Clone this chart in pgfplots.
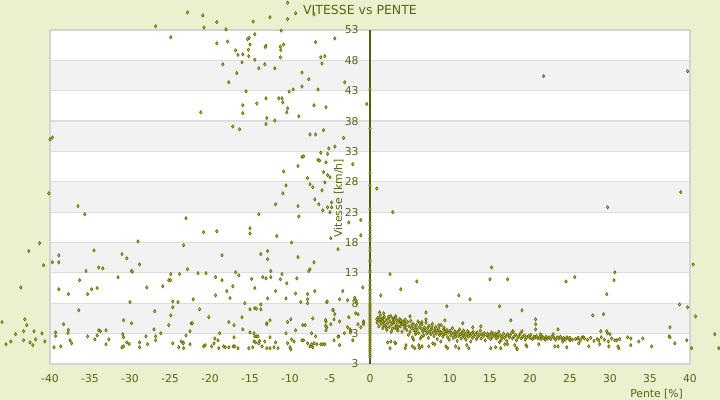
\documentclass[border=0pt]{standalone}
\usepackage{fontspec}
\setmainfont{DejaVu Sans}
\usepackage{pgfplots}
\pgfplotsset{compat=1.18}
\definecolor{bgc}{RGB}{235,240,206}
\definecolor{txtc}{RGB}{92,98,22}
\definecolor{axc}{RGB}{88,92,0}
\definecolor{mkd}{RGB}{96,102,0}
\definecolor{mkf}{RGB}{196,204,80}
\definecolor{band}{RGB}{242,242,242}
\definecolor{gridc}{RGB}{221,221,221}
\definecolor{framec}{RGB}{212,212,212}
\pgfplotsset{pts/.style={only marks, mark=diamond*, mark size=0.82pt, mark options={draw=mkd, fill=mkf, line width=0.3pt}}}
\tikzset{ylab/.style={font=\fontsize{5.4}{6}\selectfont, text=txtc, anchor=east, xshift=-2.2pt, inner sep=0.333em},
  gl/.style={draw=gridc, line width=0.6pt}}
\begin{document}
\begin{tikzpicture}
\begin{axis}[
  set layers,
  at={(0,0)}, anchor=south west,
  width=320pt, height=167pt, scale only axis,
  xmin=-40, xmax=40, ymin=-2, ymax=53,
  axis x line=bottom, axis y line=center,
  x axis line style={draw=framec,-},
  y axis line style={draw=axc, line width=0.55pt, -},
  xtick={-40,-35,...,40},
  xticklabels={-40,-35,-30,-25,-20,-15,-10,-5,0,5,10,15,20,25,30,35,40},
  ytick=\empty,
  major tick length=0pt,
  tick style={draw=none},
  hide obscured x ticks=false, hide obscured y ticks=false,
  xticklabel style={font=\fontsize{5.4}{6}\selectfont, text=txtc, anchor=center, yshift=-7.5pt},
  /pgf/number format/assume math mode=true,
  clip=false,
]
\begin{pgfonlayer}{axis background}
\fill[bgc] (rel axis cs:0,0) ++(-25pt,-18pt) rectangle ++(360pt,200pt);
\fill[white] (axis cs:-40,-2) rectangle (axis cs:40,53);
\fill[band] (axis cs:-40,3) rectangle (axis cs:40,8);
\fill[band] (axis cs:-40,13) rectangle (axis cs:40,18);
\fill[band] (axis cs:-40,23) rectangle (axis cs:40,28);
\fill[band] (axis cs:-40,33) rectangle (axis cs:40,38);
\fill[band] (axis cs:-40,43) rectangle (axis cs:40,48);
\draw[gl] (axis cs:-40,3) -- (axis cs:40,3);
\draw[gl] (axis cs:-40,8) -- (axis cs:40,8);
\draw[gl] (axis cs:-40,13) -- (axis cs:40,13);
\draw[gl] (axis cs:-40,18) -- (axis cs:40,18);
\draw[gl] (axis cs:-40,23) -- (axis cs:40,23);
\draw[gl] (axis cs:-40,28) -- (axis cs:40,28);
\draw[gl] (axis cs:-40,33) -- (axis cs:40,33);
\draw[gl] (axis cs:-40,38) -- (axis cs:40,38);
\draw[gl] (axis cs:-40,43) -- (axis cs:40,43);
\draw[gl] (axis cs:-40,48) -- (axis cs:40,48);
\draw[framec, line width=0.6pt] (axis cs:-40,-2) rectangle (axis cs:40,53);
\end{pgfonlayer}

\node[ylab] at (axis cs:0,-2) {3};
\node[ylab] at (axis cs:0,3) {3};
\node[ylab] at (axis cs:0,8) {8};
\node[ylab] at (axis cs:0,13) {13};
\node[ylab] at (axis cs:0,18) {18};
\node[ylab] at (axis cs:0,23) {23};
\node[ylab] at (axis cs:0,28) {28};
\node[ylab] at (axis cs:0,33) {33};
\node[ylab] at (axis cs:0,38) {38};
\node[ylab] at (axis cs:0,43) {43};
\node[ylab] at (axis cs:0,48) {48};
\node[ylab] at (axis cs:0,53) {53};

\node[font=\fontsize{6.25}{7}\selectfont, text=txtc, xshift=-5pt, yshift=10pt] at (axis description cs:0.5,1) {VITESSE vs PENTE};
\node[font=\fontsize{5.4}{6}\selectfont, text=txtc, anchor=east, yshift=-15pt] at (axis description cs:1,0) {Pente [\%]};
\node[font=\fontsize{5.4}{6}\selectfont, text=txtc, rotate=90] at (axis cs:-3.9,25.3) {Vitesse [km/h]};

% upper left
\addplot[pts] coordinates {
(-22.8,55.9) (-20.9,55.4) (-20.75,53.4) (-19.15,54.3) (-18.0,53.1) (-14.6,54.4) (-12.5,55.1) (-10.3,57.5) (-10.3,54.8) (-9.3,55.75) (-11.1,52.9) (-14.4,52.3) (-15.1,51.7) (-15.3,51.5) (-4.4,51.6) (-6.8,51.0) (-17.8,51.1) (-19.15,50.8) (-15.0,50.6) (-13.0,50.4) (-13.1,50.2) (-11.2,50.25) (-10.8,50.6) (-11.15,49.7) (-16.8,49.65) (-15.2,49.75) (-16.5,48.9) (-15.9,49.0) (-15.15,48.7) (-11.2,48.5) (-14.4,48.1) (-16.0,47.7) (-18.4,47.35) (-13.15,47.35) (-11.9,46.7) (-13.9,46.7) (-6.15,48.5) (-5.65,48.7) (-6.0,47.5) (-16.65,45.9) (-8.5,46.0) (-7.65,44.9) (-17.65,44.4) (-3.15,44.4) (-8.5,43.7) (-9.6,43.2) (-10.1,42.85) (-6.5,43.2) (-15.5,42.9) (-13.0,41.75) (-11.4,41.75) (-11.0,41.75) (-10.9,41.1) (-15.9,40.6) (-14.15,40.9) (-7.0,40.6) (-5.5,40.3) (-10.3,40.1) (-10.4,39.45) (-21.15,39.45) (-15.9,39.3) (-8.9,38.8) (-0.4,40.8) (-12.9,38.5) (-11.9,38.1) (-13.0,37.5) (-17.15,37.1) (-16.3,36.65) (-5.8,36.5) (-7.5,35.8) (-6.8,35.8) (-3.3,35.2) (-5.15,33.5) (-4.4,33.8) (-6.15,32.8) (-5.3,32.6) (-8.5,32.1) (-8.3,32.2) (-6.5,31.6) (-6.3,31.5) (-5.5,31.2) (-9.0,30.6) (-2.15,30.9) (-10.8,29.7) (-5.8,29.6) (-5.3,29.1) (-5.0,28.75) (-7.8,28.6) (-5.65,27.9) (-10.5,27.4) (-7.5,27.6) (-7.15,27.1) (-6.0,26.6) (-10.9,26.1) (-6.9,25.1) (-26.8,53.6) (-7.0,55.6) (-24.9,51.8) (-39.7,35.3) (-40.0,35.0)
};
% lower left
\addplot[pts] coordinates {
(-40.15,26.1) (-36.5,24.0) (-35.65,22.65) (-41.3,17.9) (-42.65,16.6) (-40.8,14.25) (-39.7,14.75) (-38.9,15.9) (-38.9,14.75) (-34.5,16.7) (-35.5,13.3) (-33.9,13.9) (-33.4,13.75) (-36.3,11.8) (-38.9,10.3) (-43.65,10.6) (-37.7,9.5) (-35.3,9.5) (-34.8,10.3) (-34.1,10.5) (-36.4,6.85) (-38.3,4.55) (-46.0,4.9) (-43.15,5.35) (-42.9,4.4) (-44.3,2.9) (-43.3,3.4) (-42.0,3.4) (-41.0,3.05) (-43.3,1.9) (-42.5,1.55) (-42.15,1.1) (-41.8,2.05) (-40.65,1.7) (-44.9,1.7) (-45.5,1.25) (-39.3,3.2) (-39.3,2.6) (-39.5,0.75) (-38.65,0.9) (-37.7,3.6) (-37.75,3.1) (-37.5,1.9) (-37.3,1.4) (-35.3,2.55) (-34.4,2.05) (-34.1,2.7) (-33.9,3.55) (-33.7,3.4) (-33.0,3.55) (-33.0,1.25) (-32.65,2.05) (-31.5,12.3) (-31.0,16.1) (-30.4,15.4) (-29.8,13.3) (-29.7,13.2) (-29.0,18.2) (-28.8,14.4) (-30.0,8.2) (-30.8,5.2) (-29.8,4.7) (-30.9,2.9) (-30.8,2.4) (-31.0,0.75) (-30.8,0.9) (-30.4,1.55) (-30.1,1.3) (-28.8,1.55) (-28.8,0.75) (-28.0,2.55) (-27.9,10.6) (-27.8,1.25) (-26.9,6.7) (-27.0,3.7) (-26.8,2.55) (-26.8,1.9) (-26.15,3.05) (-25.9,10.8) (-25.15,11.8) (-24.95,11.8) (-24.9,12.8) (-25.15,4.4) (-24.9,6.0) (-24.65,8.3) (-24.65,7.35) (-24.0,8.2) (-24.65,1.4) (-23.8,12.8) (-23.0,22.0) (-23.3,17.55) (-22.8,13.6) (-22.1,8.65) (-21.3,7.0) (-22.35,4.7) (-22.2,4.7) (-22.5,3.4) (-23.0,2.7) (-23.6,1.7) (-23.35,1.55) (-23.35,1.4) (-23.9,0.75) (-23.3,0.6) (-22.5,1.25) (-21.5,12.95) (-20.8,19.7) (-20.5,12.95) (-19.15,19.85) (-20.15,5.7) (-20.6,1.1) (-20.8,0.9) (-19.8,0.9) (-19.5,1.4) (-19.4,2.2) (-19.3,12.3) (-19.3,9.3) (-18.8,3.05) (-19.0,1.9) (-18.9,0.6) (-18.5,11.8) (-18.5,15.9) (-18.3,0.9) (-18.1,0.75) (-17.9,10.0) (-17.65,4.9) (-17.5,8.85) (-17.65,0.75) (-17.1,0.9) (-16.9,0.9) (-17.0,2.4) (-17.15,10.8) (-17.0,4.4) (-16.8,13.1) (-16.4,12.6) (-16.5,0.6) (-15.9,3.7) (-15.65,8.0) (-16.0,5.7) (-15.0,20.35) (-15.0,19.5) (-15.0,7.0) (-15.15,0.6) (-14.65,0.75) (-15.0,3.2) (-14.8,12.0) (-14.4,10.5) (-14.4,7.2) (-14.2,7.1) (-14.5,3.05) (-14.4,2.55) (-14.15,2.55) (-14.5,1.7) (-14.3,1.55) (-14.0,2.55) (-13.9,22.65) (-13.65,16.1) (-13.65,7.8) (-13.65,7.0) (-13.8,1.8) (-13.9,1.4) (-13.5,0.9) (-13.15,1.7) (-13.4,12.3) (-13.0,12.1) (-12.9,4.7) (-12.9,4.55) (-12.8,16.6) (-12.8,15.25) (-12.9,0.6) (-12.5,0.6) (-12.5,2.4) (-12.8,8.8) (-12.4,13.3) (-12.4,12.3) (-12.5,5.2) (-11.8,24.3) (-11.65,19.05) (-11.8,10.0) (-11.8,1.55) (-12.0,0.75) (-11.5,0.6) (-11.2,11.95) (-11.0,12.8) (-10.4,11.3) (-10.5,8.8) (-10.5,3.05) (-10.3,1.4) (-10.0,0.75) (-9.9,0.4) (-10.3,4.9) (-9.9,5.35) (-9.8,18.0) (-9.8,2.05) (-9.5,1.7) (-9.3,9.6) (-9.3,3.55) (-9.15,12.1) (-9.0,24.0) (-8.9,22.3) (-9.0,15.6) (-8.65,8.2) (-8.5,1.9) (-8.3,1.9) (-8.4,4.4) (-8.1,4.4) (-7.8,9.5) (-7.8,8.65) (-7.8,8.0) (-7.65,13.3) (-7.5,13.6) (-7.8,1.4) (-7.5,0.9) (-7.3,1.25) (-7.15,0.75) (-7.0,1.4) (-7.0,14.75) (-6.9,10.0) (-7.15,5.5) (-7.3,3.05) (-6.8,2.55) (-6.4,24.3) (-6.65,1.25) (-6.15,1.25) (-5.9,1.25) (-5.65,1.25) (-5.9,23.3) (-5.4,8.2) (-5.5,5.0) (-5.4,4.05) (-5.5,3.55) (-5.3,23.8) (-4.8,24.6) (-5.0,23.0) (-4.8,23.8) (-4.9,18.7) (-4.9,4.55) (-4.5,1.9) (-4.5,5.35) (-4.6,6.85) (-4.4,6.2) (-4.0,16.9) (-3.8,8.65) (-3.8,5.0) (-3.9,2.55) (-4.0,2.5) (-3.8,1.1) (-3.4,10.0) (-3.2,3.05) (-2.8,8.5) (-2.65,21.3) (-2.65,5.7) (-2.8,4.05) (-2.5,3.7) (-2.4,3.4) (-2.15,1.9) (-1.8,8.5) (-1.65,8.0) (-1.8,6.35) (-1.5,6.2) (-1.5,4.55) (-1.15,21.7) (-1.15,19.2) (-0.9,10.6) (-0.8,5.0) (-0.8,4.7) (-0.8,4.55) (-1.15,4.05) (-5.35,8.3) (-4.65,6.9) (-5.55,5.25) (-5.55,4.3) (-2.45,3.2) (-1.9,8.9)
};
% x = 0
\addplot[pts] coordinates {
(0,43.2) (0,36.8) (0,29.4) (0,27.4) (0,23.5) (0,21.3) (0,20.8) (0,20.0) (0,19.3) (0,18.7) (0,18.4) (0,17.1) (0,16.6) (0,15.1) (0,14.8) (0,13.4) (0,13.1) (0,11.8) (0,11.0) (0,10.3) (0,10.0) (0,9.6) (0,9.0) (0,8.6) (0,8.2) (0,7.8) (0,7.5) (0,7.2) (0,6.9) (0,6.6) (0,6.3) (0,6.0) (0,5.7) (0,5.4) (0,5.1) (0,4.8) (0,4.5) (0,4.2) (0,3.9) (0,3.6) (0,3.3) (0,3.0) (0,2.7) (0,2.4) (0,2.1) (0,1.8) (0,1.5) (0,1.2) (0,0.9) (0,0.6) (0,0.3) (0,0.0) (0,-0.3) (0,-0.6) (0,-0.9)
};
% right scattered
\addplot[pts] coordinates {
(21.7,45.4) (39.7,46.2) (0.85,26.9) (2.85,23.0) (29.7,23.8) (38.85,26.3) (40.4,14.4) (15.2,13.9) (2.5,12.8) (5.85,11.6) (15.0,11.95) (17.2,11.95) (24.5,11.6) (25.6,12.3) (30.6,13.1) (30.5,11.8) (3.85,10.3) (1.35,9.3) (11.1,9.3) (12.5,8.65) (29.6,9.5) (9.6,7.5) (16.2,7.5) (19.0,6.85) (27.85,6.0) (29.2,6.2) (38.7,7.8) (39.7,7.35) (40.7,5.85) (43.1,2.9) (40.2,0.6) (43.6,0.6) (37.5,4.05) (37.4,2.55) (37.5,2.4) (38.1,1.4) (39.6,1.9) (7.0,6.5) (5.0,5.85) (3.2,5.85) (2.85,5.5) (1.2,6.5) (1.7,6.35) (0.85,5.35) (1.6,5.5) (7.0,5.35) (6.5,4.9) (9.35,5.2) (17.6,5.2) (20.7,5.35) (20.7,4.55) (20.7,3.7) (23.5,3.7) (28.85,3.4) (29.6,3.4) (29.7,3.05) (30.0,2.9) (17.85,3.4) (13.85,4.2) (12.85,4.05) (11.6,4.7) (8.6,4.4) (32.2,2.4) (32.6,2.2) (33.6,1.7) (34.1,2.2) (35.2,0.9) (32.6,1.1) (30.85,1.9) (29.85,0.9) (31.0,0.9) (31.1,0.6) (28.7,1.25) (28.6,1.9) (27.35,0.9) (26.1,1.4) (26.5,2.4) (26.7,2.4) (26.0,2.2) (25.0,2.05) (25.0,1.9) (24.6,0.75) (23.5,0.9) (23.1,0.9) (21.1,1.25) (19.5,1.1) (19.6,0.9) (18.35,0.6) (18.4,0.4) (18.1,1.1) (16.85,1.25) (17.2,1.25) (16.35,0.6) (15.7,0.75) (15.1,0.6) (11.1,0.6) (12.35,0.6) (12.1,1.1) (10.7,0.9) (9.7,0.6) (9.5,0.9) (8.85,1.7) (8.1,1.25) (7.85,1.4) (7.35,0.9) (6.2,0.6) (6.5,0.9) (6.1,1.1) (5.3,0.9) (5.6,0.6) (4.4,0.6) (4.5,1.1) (3.2,1.4) (3.1,1.55) (2.5,0.6) (2.2,1.55) (2.6,1.7)
};
% dense band
\addplot[pts] coordinates {
(0.9,4.8) (1.0,5.6) (1.1,4.2) (1.2,5.1) (1.3,6.0) (1.4,4.6) (1.5,5.4) (1.6,3.9) (1.7,4.9) (1.8,5.8) (1.9,4.4) (2.0,5.2) (2.1,3.6) (2.2,4.7) (2.3,5.5) (2.4,4.1) (2.5,5.0) (2.6,5.9) (2.7,4.5) (2.8,3.8) (2.9,5.3) (3.0,4.8) (3.1,4.0) (3.2,5.6) (3.3,4.4) (3.4,5.1) (3.5,3.5) (3.6,4.9) (3.7,5.4) (3.8,4.2) (3.9,4.7) (4.0,3.3) (4.1,5.0) (4.2,4.5) (4.3,3.9) (4.4,5.3) (4.5,4.3) (1.25,5.35) (1.75,4.3) (2.35,5.8) (2.85,4.9) (3.35,3.7) (3.85,5.2) (4.35,4.75) (2.05,4.0) (1.55,5.05) (3.05,5.25) (2.65,3.3) (3.55,4.1) (4.05,4.6)
(4.6,3.6) (4.7,4.9) (4.8,2.8) (4.9,4.2) (5.0,3.3) (5.1,5.1) (5.2,3.9) (5.3,2.4) (5.4,4.6) (5.5,3.5) (5.6,4.0) (5.7,2.9) (5.8,4.4) (5.9,3.7) (6.0,5.0) (6.1,3.1) (6.2,4.1) (6.3,2.2) (6.4,3.8) (6.5,4.5) (6.6,3.3) (6.7,2.7) (6.8,4.0) (6.9,3.5) (7.0,4.8) (7.1,3.0) (7.2,3.9) (7.3,2.3) (7.4,4.3) (7.5,3.4) (7.6,2.9) (7.7,3.8) (7.8,4.6) (7.9,3.2) (8.0,2.6) (8.1,3.6) (8.2,4.1) (8.3,3.0) (8.4,2.1) (8.5,3.5) (8.6,3.9) (8.7,2.8) (8.8,3.3) (8.9,4.4) (9.0,3.1) (9.1,2.5) (9.2,3.7) (9.3,2.9) (9.4,3.4) (5.25,4.45) (5.75,3.2) (6.25,4.7) (6.75,3.6) (7.25,3.25) (7.75,4.05) (8.25,3.45) (8.75,3.15) (9.25,4.0) (5.45,2.0) (6.45,2.5)
(9.5,3.0) (9.6,3.6) (9.7,2.4) (9.8,3.2) (9.9,2.0) (10.0,3.5) (10.1,2.7) (10.2,3.1) (10.3,3.9) (10.4,2.3) (10.5,2.9) (10.6,3.4) (10.7,2.5) (10.8,3.0) (10.9,1.8) (11.0,3.3) (11.1,2.6) (11.2,3.7) (11.3,2.9) (11.4,2.2) (11.5,3.2) (11.6,2.7) (11.7,3.5) (11.8,2.4) (11.9,3.0) (12.0,2.0) (12.1,2.8) (12.2,3.4) (12.3,2.5) (12.4,3.1) (12.5,2.7) (12.6,1.7) (12.7,3.0) (12.8,2.3) (12.9,3.3) (13.0,2.6) (13.2,2.9) (13.3,2.1) (13.4,3.2) (13.5,2.5) (13.7,2.8) (13.8,3.5) (13.9,2.2) (14.0,2.9) (14.2,2.6) (14.3,3.1) (14.4,1.9) (14.6,2.7) (14.7,3.0) (14.8,2.4) (15.0,2.8) (15.1,2.1) (15.2,3.2) (15.3,2.5) (15.4,2.9)
(15.6,2.6) (15.7,3.0) (15.8,2.2) (15.9,2.8) (16.0,2.4) (16.1,3.3) (16.3,2.7) (16.4,2.0) (16.5,2.5) (16.7,3.0) (16.8,2.3) (17.0,2.6) (17.1,1.8) (17.2,2.9) (17.4,2.4) (17.5,2.7) (17.7,3.1) (17.8,2.2) (18.0,2.5) (18.2,2.8) (18.3,1.9) (18.5,2.4) (18.6,2.6) (18.8,3.0) (18.9,2.2) (19.1,2.5) (19.3,2.7) (19.4,2.0) (19.6,2.4) (19.8,2.6) (20.0,2.3) (20.1,2.8) (20.3,2.1) (20.5,2.5) (20.6,2.3) (20.8,2.6) (21.0,2.2) (16.2,1.6) (17.9,3.3) (19.0,3.4)
(21.2,2.4) (21.4,2.1) (21.5,2.6) (21.7,2.3) (21.9,2.0) (22.0,2.5) (22.2,2.2) (22.4,2.4) (22.6,2.1) (22.8,2.6) (23.0,2.3) (23.2,2.0) (23.4,2.4) (23.6,2.2) (23.8,2.5) (24.0,2.1) (24.2,2.3) (24.4,2.0) (24.6,2.4) (24.8,2.2) (25.0,2.3) (25.3,2.0) (21.3,2.9) (22.9,2.9) (24.1,1.7)
(25.7,2.1) (26.0,2.3) (26.3,1.9) (26.8,2.2) (27.2,2.0) (27.6,2.3) (28.0,1.8) (28.4,2.1) (28.9,2.4) (29.3,2.0) (29.8,1.7) (30.2,2.2) (30.6,1.9) (31.2,2.1)
};
\end{axis}
\pgfresetboundingbox
\path[use as bounding box] (-25pt,-18pt) rectangle (335pt,182pt);
\end{tikzpicture}
\end{document}
